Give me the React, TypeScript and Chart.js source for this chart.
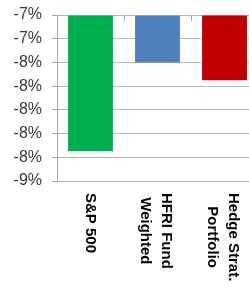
import React, { useEffect, useRef } from "react";
import { Chart, registerables } from "chart.js";

Chart.register(...registerables);

const categories: string[][] = [["S&P 500"], ["HFRI Fund", "Weighted"], ["Hedge Strat.", "Portfolio"]];
const values: number[] = [-8.35, -7.6, -7.75];
const barColors: string[] = ["#00b050", "#4f81bd", "#c00000"];
const axisMax = -7.2;
const axisMin = -8.6;
const axisStep = 0.2;

const xLabelPlugin = {
  id: "xLabelPlugin",
  afterDraw(chart: any) {
    const ctx = chart.ctx as CanvasRenderingContext2D;
    const xs = chart.scales.x;
    const area = chart.chartArea;
    ctx.save();
    // category boundary tick marks hanging from the top axis
    ctx.strokeStyle = "#a6a6a6";
    ctx.lineWidth = 1;
    for (let i = 0; i < categories.length - 1; i++) {
      const bx = Math.round((xs.getPixelForValue(i) + xs.getPixelForValue(i + 1)) / 2) + 0.5;
      ctx.beginPath();
      ctx.moveTo(bx, area.top);
      ctx.lineTo(bx, area.top + 6);
      ctx.stroke();
    }
    ctx.font = 'bold 15px "Liberation Sans", Arial, sans-serif';
    ctx.fillStyle = "#000000";
    ctx.textAlign = "center";
    ctx.textBaseline = "middle";
    const lineH = 21;
    categories.forEach((lines, i) => {
      const cx = xs.getPixelForValue(i) - (lines.length > 1 ? 2 : 0);
      const w = Math.max(...lines.map((l) => ctx.measureText(l).width));
      const y0 = area.bottom + 12;
      ctx.save();
      ctx.translate(cx, y0 + w / 2);
      ctx.rotate(Math.PI / 2);
      lines.forEach((l, k) => {
        ctx.fillText(l, 0, (k - (lines.length - 1) / 2) * lineH);
      });
      ctx.restore();
    });
    ctx.restore();
  },
};

export default function App() {
  const ref = useRef<HTMLCanvasElement>(null);
  useEffect(() => {
    document.body.style.margin = "0";
    const chart = new Chart(ref.current!, {
      type: "bar",
      data: {
        labels: categories,
        datasets: [
          {
            data: values,
            base: axisMax,
            backgroundColor: barColors,
            borderWidth: 0,
            categoryPercentage: 1,
            barPercentage: 0.67,
          } as any,
        ],
      },
      options: {
        animation: false,
        responsive: false,
        devicePixelRatio: 1,
        layout: { padding: { top: 15, left: 0, right: 0, bottom: 0 } },
        plugins: { legend: { display: false }, tooltip: { enabled: false } },
        scales: {
          x: {
            position: "bottom",
            grid: { display: false },
            border: { display: false },
            ticks: { display: false },
            afterFit: (s: any) => {
              s.height = 109;
              s.paddingLeft = 0;
              s.paddingRight = 0;
            },
          },
          y: {
            min: axisMin,
            max: axisMax,
            ticks: {
              stepSize: axisStep,
              padding: 10,
              color: "#3a3a3a",
              font: { family: '"Liberation Sans", Arial, sans-serif', size: 16 },
              callback: (v: any) => Math.round(Number(v)) + "%",
            },
            grid: { color: "#b8b8b8", tickColor: "#a6a6a6", tickLength: 5 },
            border: { color: "#a6a6a6" },
            afterFit: (s: any) => {
              s.width = 57;
              s.paddingTop = 0;
              s.paddingBottom = 0;
            },
          },
        },
      },
      plugins: [xLabelPlugin],
    });
    return () => chart.destroy();
  }, []);
  return (
    <div style={{ width: 249, height: 290, overflow: "hidden", position: "relative" }}>
      <canvas ref={ref} width={258} height={290} style={{ display: "block" }} />
    </div>
  );
}
